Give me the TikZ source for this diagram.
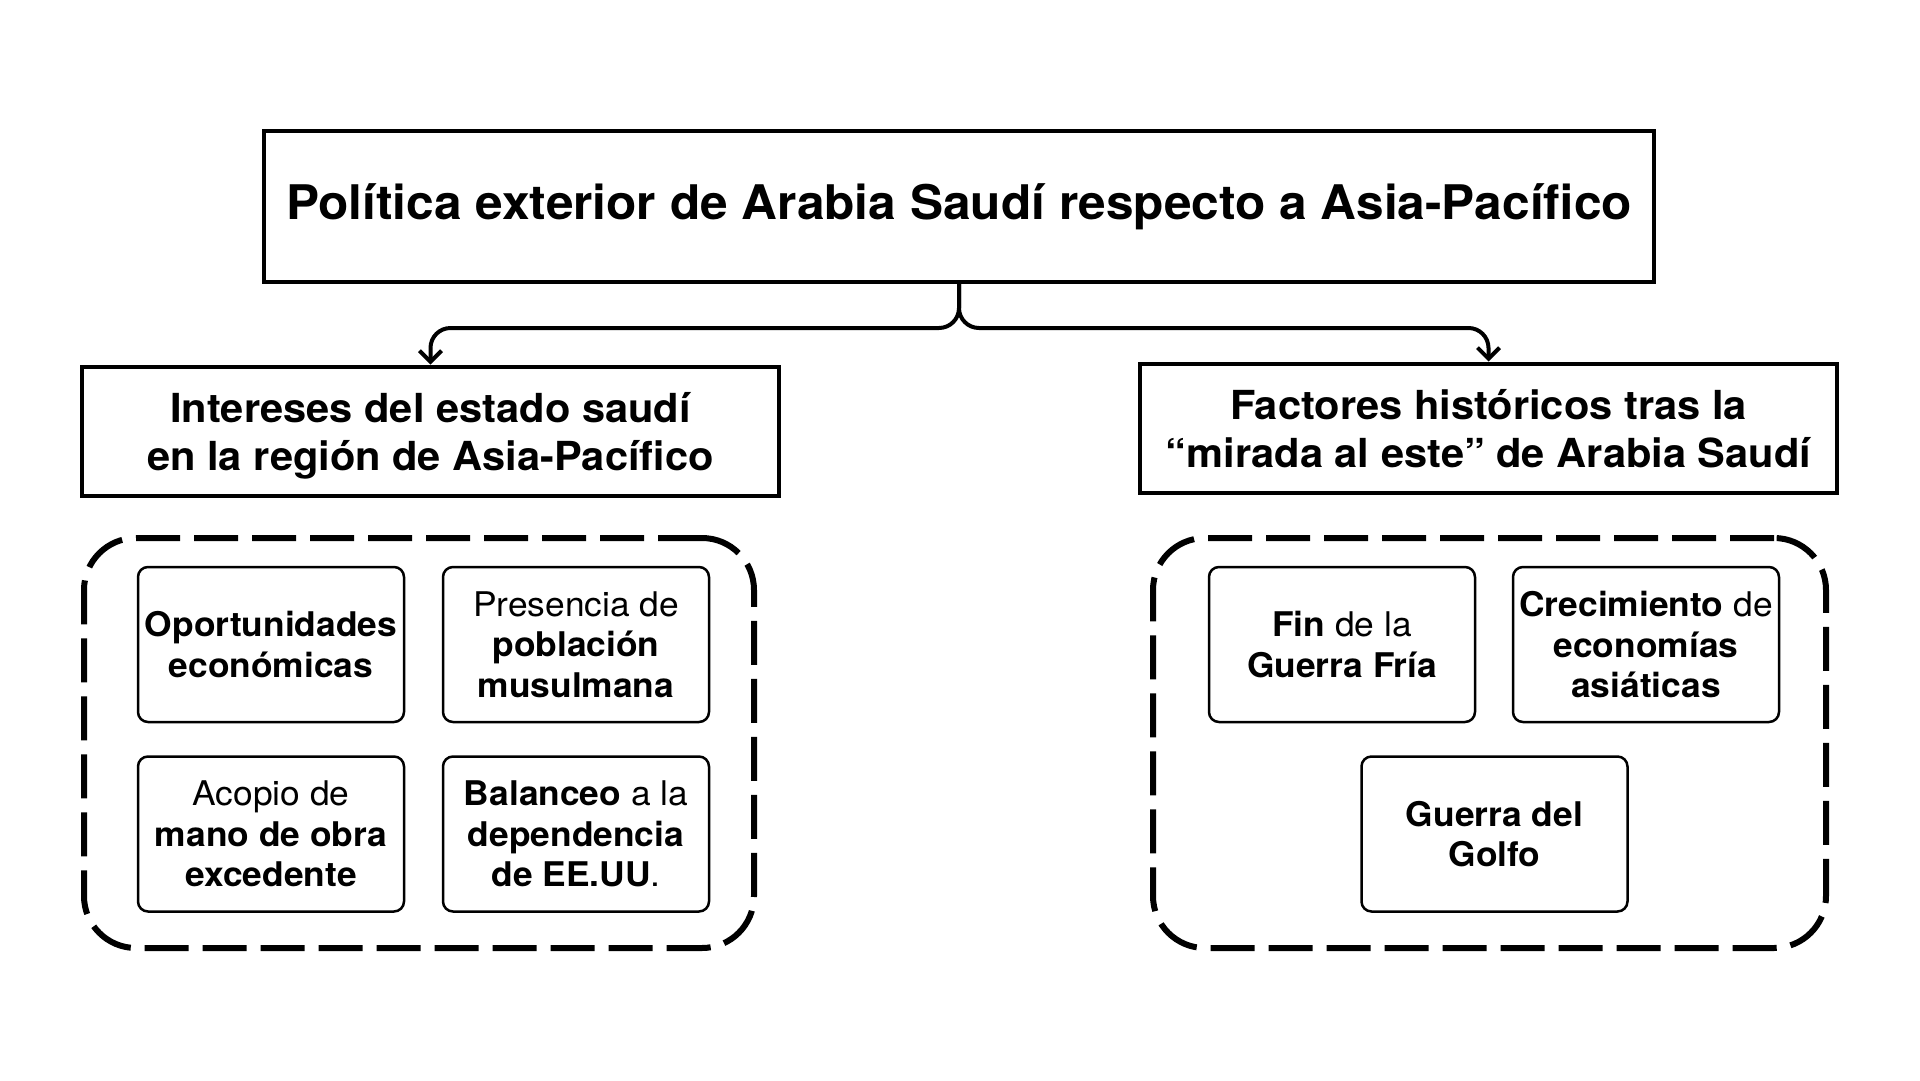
\documentclass[tikz,border=0pt]{standalone}
\usepackage{fontspec}
\setmainfont{TeX Gyre Heros}[FakeStretch=1.04]
\usetikzlibrary{arrows.meta}
\begin{document}
\begin{tikzpicture}[x=1pt,y=-1pt,
  titlebox/.style={draw, line width=4pt, inner sep=0pt, align=center,
    minimum width=1390pt, minimum height=151pt,
    font=\bfseries\fontsize{47.7}{56}\selectfont},
  hdr/.style={draw, line width=4pt, inner sep=0pt, align=center,
    minimum width=697pt, minimum height=129pt,
    font=\bfseries\fontsize{40}{48}\selectfont},
  item/.style={draw, line width=2.5pt, rounded corners=10pt,
    minimum width=266pt, minimum height=155pt, inner sep=0pt, align=center,
    font=\fontsize{34}{40.5}\selectfont},
  group/.style={draw, line width=6pt, dash pattern=on 44pt off 14pt,
    rounded corners=52pt, minimum height=410pt, inner sep=0pt},
  conn/.style={line width=4pt, rounded corners=20pt,
    -{Straight Barb[length=11pt,width=22pt]}}]
\fill[white] (0,0) rectangle (1920,1080);
\useasboundingbox (0,0) rectangle (1920,1080);

\node[titlebox] (title) at (959,206.5) {Política exterior de Arabia Saudí respecto a Asia-Pacífico};

\node[hdr] (lefthead) at (430.5,431) {\raisebox{-6pt}[\height][\depth]{\begin{tabular}{@{}c@{}}Intereses del estado saudí\\en la región de Asia-Pacífico\end{tabular}}};
\node[hdr] (righthead) at (1488.5,428) {\raisebox{-6pt}[\height][\depth]{\begin{tabular}{@{}c@{}}Factores históricos tras la\\“mirada al este” de Arabia Saudí\end{tabular}}};

\draw[conn] (title.south) -- ++(0,44) -| (lefthead.north);
\draw[conn] (title.south) -- ++(0,44) -| (righthead.north);

\node[group, minimum width=670pt] (leftgroup) at (419,743) {};
\node[group, minimum width=673pt] (rightgroup) at (1489.5,743) {};

\node[item] (opp) at (271,644.5) {\textbf{Oportunidades}\\\textbf{económicas}};
\node[item] (pres) at (576,644.5) {Presencia de\\\textbf{población}\\\textbf{musulmana}};
\node[item] (acop) at (271,834) {Acopio de\\\textbf{mano de obra}\\\textbf{excedente}};
\node[item] (bal) at (576,834) {\textbf{Balanceo} a la\\\textbf{dependencia}\\\textbf{de EE.UU}.};

\node[item] (fin) at (1342,644.5) {\textbf{Fin} de la\\\textbf{Guerra Fría}};
\node[item] (crec) at (1646,644.5) {\textbf{Crecimiento} de\\\textbf{economías}\\\textbf{asiáticas}};
\node[item] (golfo) at (1494.5,834) {\textbf{Guerra del}\\\textbf{Golfo}};
\end{tikzpicture}
\end{document}
